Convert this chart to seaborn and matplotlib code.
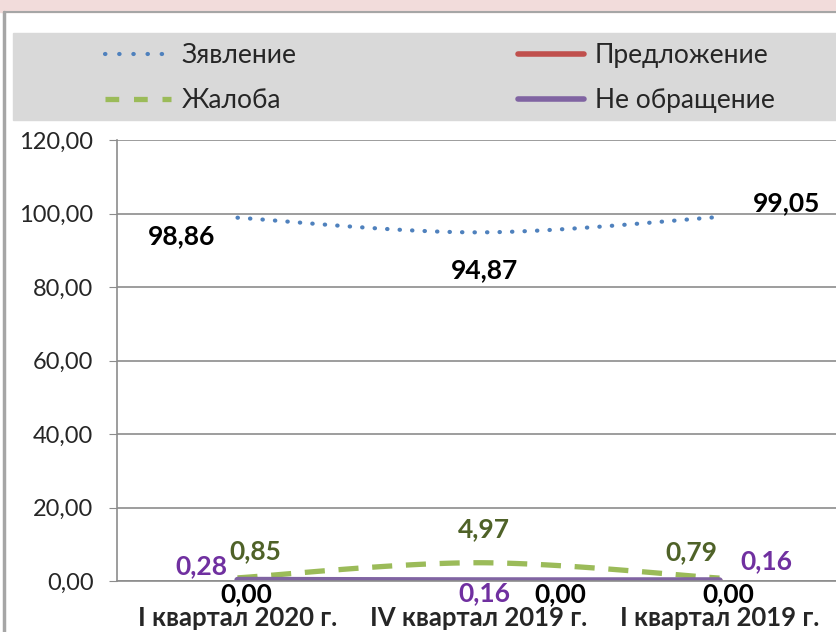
import numpy as np
import pandas as pd
import seaborn as sns
import matplotlib.pyplot as plt
from matplotlib.patches import Rectangle
from matplotlib.lines import Line2D
from matplotlib.ticker import FuncFormatter

sns.set_style("white")
plt.rcParams['font.family'] = ['Lato', 'DejaVu Sans']

# data
categories = ["I квартал 2020 г.", "IV квартал 2019 г.", "I квартал 2019 г."]
zayavlenie = [98.86, 94.87, 99.05]
predlozhenie = [0.00, 0.00, 0.00]
zhaloba = [0.85, 4.97, 0.79]
ne_obrashchenie = [0.28, 0.16, 0.16]


def smooth(y, n=60):
    # excel-like smoothed line (bezier through the points)
    x = np.arange(len(y), dtype=float)
    y = np.asarray(y, dtype=float)
    px, py = [], []
    for i in range(len(y) - 1):
        x0, y0 = x[max(i - 1, 0)], y[max(i - 1, 0)]
        x1, y1 = x[i], y[i]
        x2, y2 = x[i + 1], y[i + 1]
        x3, y3 = x[min(i + 2, len(y) - 1)], y[min(i + 2, len(y) - 1)]
        c1x, c1y = x1 + (x2 - x0) / 6, y1 + (y2 - y0) / 6
        c2x, c2y = x2 - (x3 - x1) / 6, y2 - (y3 - y1) / 6
        t = np.linspace(0, 1, n)
        bx = (1 - t)**3 * x1 + 3 * (1 - t)**2 * t * c1x + 3 * (1 - t) * t**2 * c2x + t**3 * x2
        by = (1 - t)**3 * y1 + 3 * (1 - t)**2 * t * c1y + 3 * (1 - t) * t**2 * c2y + t**3 * y2
        px.extend(bx)
        py.extend(by)
    return np.array(px), np.array(py)


fig = plt.figure(figsize=(8.36, 6.32), dpi=100)
W, H = 836, 632

# pink band, chart border, legend box
fig.patches.append(Rectangle((0, 1 - 12 / H), 1, 12 / H, transform=fig.transFigure,
                             color="#F2DCDB", zorder=0))
fig.add_artist(Line2D([4 / W, 4 / W], [0, 1 - 12 / H], transform=fig.transFigure,
                      color="#A6A6A6", lw=2.5))
fig.add_artist(Line2D([4 / W, 1], [1 - 12 / H, 1 - 12 / H], transform=fig.transFigure,
                      color="#A6A6A6", lw=1.5))
fig.patches.append(Rectangle((13 / W, 1 - 120 / H), 1, 87 / H, transform=fig.transFigure,
                             color="#D9D9D9", zorder=0))

ax = fig.add_axes([117 / W, 1 - 581 / H, 723 / W, 441 / H])

blue, red, green, purple = "#4F81BD", "#C0504D", "#9BBB59", "#8064A2"

sx, sy = smooth(zayavlenie)
sns.lineplot(x=sx, y=sy, ax=ax, color=blue, lw=3.0, sort=False)
ax.lines[-1].set_dashes((0.1, 2.9))
ax.lines[-1].set_dash_capstyle("round")

sx, sy = smooth(predlozhenie)
sns.lineplot(x=sx, y=sy, ax=ax, color=red, lw=4.0, sort=False)

sx, sy = smooth(zhaloba)
sns.lineplot(x=sx, y=sy, ax=ax, color=green, lw=3.8, sort=False)
ax.lines[-1].set_dashes((3.8, 2.6))

sx, sy = smooth(ne_obrashchenie)
sns.lineplot(x=sx, y=sy, ax=ax, color=purple, lw=4.6, sort=False)

ax.set_xlim(-0.5, 2.5)
ax.set_ylim(0, 120)
ax.set_yticks(np.arange(0, 121, 20))
ax.yaxis.set_major_formatter(FuncFormatter(lambda v, p: f"{v:.2f}".replace(".", ",")))
ax.grid(axis="y", color="#8C8C8C", lw=1.2)
ax.set_axisbelow(True)
for s in ["top", "right"]:
    ax.spines[s].set_visible(False)
for s in ["left", "bottom"]:
    ax.spines[s].set_color("#8C8C8C")
    ax.spines[s].set_linewidth(1.2)

ax.set_xticks(range(len(categories)))
ax.set_xticklabels(categories, fontsize=18.5, fontweight="bold")
ax.set_xticks([-0.5, 0.5, 1.5], minor=True)
ax.tick_params(axis="x", which="major", length=0, pad=18)
ax.tick_params(axis="x", which="minor", length=6, color="#8C8C8C", direction="out")
ax.tick_params(axis="y", length=6, color="#8C8C8C", labelsize=17, pad=11, left=True)
ax.set_xlabel("")
ax.set_ylabel("")


def fmt(v):
    return f"{v:.2f}".replace(".", ",")


def label(i, v, dx, dy, color):
    ax.annotate(fmt(v), (i, v), xytext=(dx, dy), textcoords="offset points",
                ha="center", va="center", fontsize=19, fontweight="bold", color=color)


# value labels
label(0, zayavlenie[0], -40, -13, "black")
label(1, zayavlenie[1], 4, -27, "black")
label(2, zayavlenie[2], 48, 10, "black")
label(0, zhaloba[0], 13, 19.5, "#4F6228")
label(1, zhaloba[1], 4, 24, "#4F6228")
label(2, zhaloba[2], -20, 19, "#4F6228")
label(0, ne_obrashchenie[0], -26, 10, "#7030A0")
label(1, ne_obrashchenie[1], 4, -9.5, "#7030A0")
label(2, ne_obrashchenie[2], 34, 14, "#7030A0")
label(0, predlozhenie[0], 6, -9.5, "black")
label(1, predlozhenie[1], 59, -9.5, "black")
label(2, predlozhenie[2], 6, -9.5, "black")

handles = [
    Line2D([], [], color=blue, lw=3.0, dashes=(0.1, 3.3), dash_capstyle="round"),
    Line2D([], [], color=green, lw=3.8, dashes=(2.6, 2.8)),
    Line2D([], [], color=red, lw=4.0, solid_capstyle="round"),
    Line2D([], [], color=purple, lw=4.0, solid_capstyle="round"),
]
names = ["Зявление", "Жалоба", "Предложение", "Не обращение"]
fig.legend(handles, names, ncol=2, frameon=False, fontsize=19,
           loc="upper left", bbox_to_anchor=(105 / W, 1 - 43 / H),
           borderaxespad=0, borderpad=0,
           handlelength=2.5, handletextpad=0.4, columnspacing=8.4, labelspacing=0.75)

fig.savefig("out.png", dpi=100)
